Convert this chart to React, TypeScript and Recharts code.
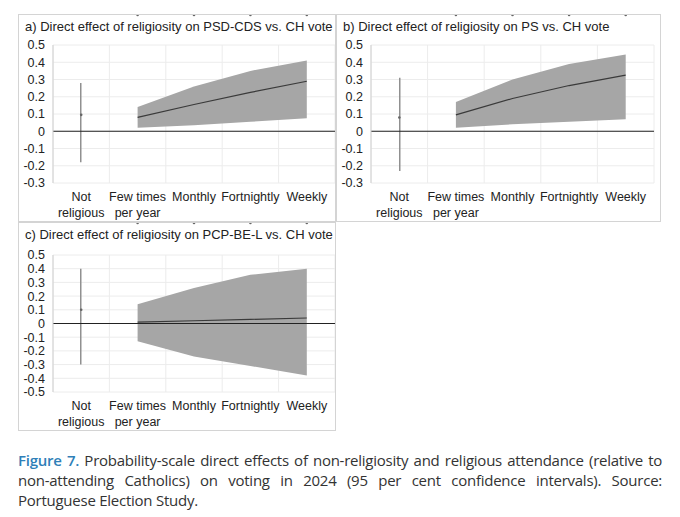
import React from 'react'
import {
  ComposedChart, Area, Line, Bar, Scatter, XAxis, YAxis, CartesianGrid, ReferenceLine,
} from 'recharts'

const categories = ['Not|religious', 'Few times|per year', 'Monthly', 'Fortnightly', 'Weekly']

// not religious: point + CI
const nrA = { est: 0.095, lo: -0.18, hi: 0.28 }
const nrB = { est: 0.08, lo: -0.23, hi: 0.31 }
const nrC = { est: 0.1, lo: -0.3, hi: 0.4 }

// attendance levels (few times .. weekly)
const estA = [0.08, 0.155, 0.225, 0.29]
const loA = [0.02, 0.035, 0.055, 0.075]
const hiA = [0.14, 0.26, 0.35, 0.41]

const estB = [0.095, 0.19, 0.265, 0.325]
const loB = [0.02, 0.04, 0.055, 0.07]
const hiB = [0.17, 0.3, 0.39, 0.445]

const estC = [0.01, 0.02, 0.03, 0.04]
const loC = [-0.13, -0.24, -0.31, -0.38]
const hiC = [0.14, 0.26, 0.355, 0.4]

const ticksA = [0.5, 0.4, 0.3, 0.2, 0.1, 0, -0.1, -0.2, -0.3]
const ticksC = [0.5, 0.4, 0.3, 0.2, 0.1, 0, -0.1, -0.2, -0.3, -0.4, -0.5]

const FONT = "'Liberation Sans', Arial, sans-serif"
const TEXT = '#222'

function build(nr: any, est: number[], lo: number[], hi: number[]) {
  return categories.map((c, i) => i === 0
    ? { cat: c, nr: [nr.lo, nr.hi], pt: nr.est }
    : { cat: c, est: est[i - 1], band: [lo[i - 1], hi[i - 1]] })
}

function CatTick({ x, y, payload }: any) {
  const lines = String(payload.value).split('|')
  return (
    <text x={x} y={y + 10} textAnchor="middle" fill={TEXT} fontSize={12.5} fontFamily={FONT}>
      {lines.map((l, i) => <tspan key={i} x={x} dy={i === 0 ? 0 : 16}>{l}</tspan>)}
    </text>
  )
}

const fmt = (v: number) => (v === 0 ? '0' : String(Math.round(v * 10) / 10))

function Panel({ title, data, ticks, domain, left, top, width, height, mTop, mRight, yw }: any) {
  return (
    <div style={{ position: 'absolute', left, top, width, height, border: '1px solid #d4d4d4', boxSizing: 'border-box' }}>
      <div style={{ position: 'absolute', left: 6, top: 4, fontSize: 13, fontFamily: FONT, color: TEXT, whiteSpace: 'nowrap' }}>{title}</div>
      <ComposedChart width={width - 2} height={height - 2} data={data}
        margin={{ top: mTop, right: mRight, left: 0, bottom: 0 }} barCategoryGap={0}>
        <CartesianGrid stroke="#ececec"
          verticalCoordinatesGenerator={({ offset }: any) =>
            categories.map((_, i) => offset.left + (i * offset.width) / categories.length).concat(offset.left + offset.width)} />
        <XAxis dataKey="cat" interval={0} tick={<CatTick />} axisLine={false} tickLine={false} height={38} />
        <YAxis domain={domain} ticks={ticks} interval={0} tickFormatter={fmt} width={yw}
          tick={{ fill: TEXT, fontSize: 12.5, fontFamily: FONT }} axisLine={{ stroke: '#d0d0d0' }} tickLine={false} />
        <Area dataKey="band" fill="#a6a6a6" fillOpacity={1} stroke="none" isAnimationActive={false} />
        <ReferenceLine y={0} stroke="#222" strokeWidth={1.2} />
        <Bar dataKey="nr" fill="#909090" barSize={1.5} isAnimationActive={false} />
        <Line dataKey="est" stroke="#3a3a3a" strokeWidth={1.2} dot={false} isAnimationActive={false} />
        <Scatter dataKey="pt" fill="#666" shape={(p: any) => <circle cx={p.cx} cy={p.cy} r={1.3} fill="#666" />} isAnimationActive={false} />
      </ComposedChart>
    </div>
  )
}

export default function App() {
  return (
    <div style={{ position: 'absolute', left: 0, top: 0, width: 680, height: 517, background: '#fff' }}>
      <Panel title="a) Direct effect of religiosity on PSD-CDS vs. CH vote" data={build(nrA, estA, loA, hiA)}
        ticks={ticksA} domain={[-0.3, 0.5]} left={18} top={14} width={318} height={208} mTop={30} mRight={0} yw={34} />
      <Panel title="b) Direct effect of religiosity on PS vs. CH vote" data={build(nrB, estB, loB, hiB)}
        ticks={ticksA} domain={[-0.3, 0.5]} left={336} top={14} width={325} height={208} mTop={30} mRight={6} yw={34} />
      <Panel title="c) Direct effect of religiosity on PCP-BE-L vs. CH vote" data={build(nrC, estC, loC, hiC)}
        ticks={ticksC} domain={[-0.5, 0.5]} left={18} top={222} width={318} height={209} mTop={32} mRight={0} yw={34} />
      <div style={{ position: 'absolute', left: 18, top: 450, width: 644, fontSize: 15, lineHeight: '20px', letterSpacing: -0.25, fontFamily: "'Open Sans', sans-serif", color: '#333', textAlign: 'justify' }}>
        <span style={{ color: '#2f7fb8', fontWeight: 600 }}>Figure 7.</span> Probability-scale direct effects of non-religiosity and religious attendance (relative to non-attending Catholics) on voting in 2024 (95 per cent confidence intervals). Source: Portuguese Election Study.
      </div>
    </div>
  )
}
